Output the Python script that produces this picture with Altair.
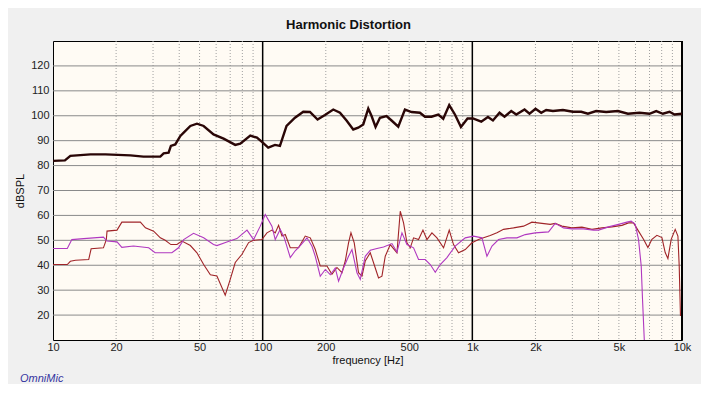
import altair as alt
import pandas as pd

# ---------------- data ----------------
fund_freq = [10, 11.4, 12.1, 15.1, 17.8, 23.4, 27.0, 32.5, 33.7, 35.6, 36.5, 38.3, 40.5, 42.0, 45.2,
             48.6, 52.3, 58.3, 65.1, 74.0, 78.2, 87.3, 93.9, 99.2, 106.3, 114.5, 120.9, 130.0, 142.6,
             156.2, 168.1, 182.7, 198.2, 217.1, 233.7, 251.2, 270.4, 285.7, 301.8, 318.9, 330.7, 345.5,
             362.6, 389.7, 411.8, 443.3, 477.0, 513.0, 562.5, 594.3, 638.9, 687.8, 726.5, 775.9, 826.0,
             882.3, 948.7, 1007, 1103, 1187, 1254, 1348, 1424, 1533, 1620, 1774, 1874, 2002, 2131, 2251,
             2423, 2704, 3018, 3306, 3558, 3897, 4350, 4948, 5521, 6270, 6998, 7533, 8108, 8718, 9210, 10000]
fund_db = [81.9, 82.1, 83.9, 84.5, 84.5, 84.1, 83.6, 83.6, 84.9, 85.2, 87.9, 88.5, 91.9, 93.2, 95.9,
           96.8, 95.9, 92.5, 90.8, 88.3, 88.8, 92.0, 91.2, 89.5, 87.2, 88.3, 87.9, 95.9, 99.2,
           101.6, 101.5, 98.5, 100.3, 102.5, 101.2, 98.1, 94.5, 95.2, 96.5, 102.9, 99.9, 95.5,
           99.2, 99.9, 98.1, 95.6, 102.5, 101.5, 101.2, 99.6, 99.6, 100.5, 98.8, 104.3, 100.5,
           95.5, 98.9, 98.9, 97.6, 99.5, 98.1, 101.2, 99.6, 101.9, 100.5, 102.5, 100.8, 102.8, 101.2, 102.3,
           101.9, 102.3, 101.6, 101.6, 100.8, 101.9, 101.5, 101.9, 100.8, 101.2, 100.8, 101.9, 100.8, 101.6, 100.5, 100.8]

h2_freq = [10, 11.7, 12.1, 12.8, 14.8, 15.2, 17.4, 17.96, 18.1, 20.2, 21.3, 26.1, 27.6, 30.2, 32.5, 34.3,
           36.5, 39.0, 41.2, 45.2, 48.6, 52.3, 56.3, 60.5, 66.3, 70.1, 74.0, 79.7, 85.7, 90.5, 99.2,
           104.8, 110.7, 114.8, 119.1, 123.6, 128.2, 135.4, 148.3, 159.6, 168.7, 178.2, 188.2, 202.6,
           214.0, 226.1, 238.9, 247.7, 256.8, 263.7, 273.4, 286.6, 297.5, 308.5, 326.0, 344.4, 357.0,
           370.6, 384.3, 406.0, 437.0, 453.2, 469.9, 487.7, 505.7, 524.4, 554.0, 581.4, 607.5, 641.7,
           678.0, 729.0, 775.9, 813.4, 859.5, 925.0, 995.6, 1071, 1131, 1217, 1310, 1409, 1572, 1755,
           1924, 2148, 2353, 2485, 2675, 2985, 3331, 3718, 4150, 4632, 5169, 5559, 5872, 6203, 6553,
           6877, 7187, 7592, 8020, 8315, 8566, 8881, 9281, 9561, 9698, 9835]
h2_db = [40.3, 40.3, 41.6, 42.0, 42.3, 46.6, 47.0, 50.3, 53.7, 54.1, 57.3, 57.3, 55.0, 53.7, 51.0, 50.0,
         48.3, 48.3, 49.7, 47.9, 45.0, 40.3, 36.2, 35.7, 28.0, 34.4, 41.1, 44.4, 49.1, 50.0, 50.3,
         53.0, 54.1, 53.0, 56.0, 51.7, 52.3, 47.0, 47.0, 51.7, 51.0, 46.3, 39.7, 39.7,
         36.4, 39.1, 37.0, 41.7, 49.0, 53.0, 49.0, 37.0, 35.6, 41.7, 45.0, 38.9, 34.9,
         35.6, 43.6, 48.3, 45.0, 61.7, 57.0, 49.0, 47.0, 51.0, 50.3, 54.1, 50.3, 53.0,
         51.0, 47.0, 54.1, 48.3, 45.0, 46.3, 49.0, 50.3, 51.0, 51.9, 53.0, 54.4, 55.0, 55.7,
         57.3, 56.8, 56.4, 56.8, 55.7, 55.0, 55.3, 54.4, 55.0, 55.4, 56.0, 57.0, 57.0, 53.7, 50.4,
         47.1, 50.4, 52.0, 51.1, 45.1, 42.7, 50.4, 54.4, 51.7, 39.7, 19.6]

h3_freq = [10, 11.7, 12.3, 14.0, 17.4, 18.1, 20.2, 21.3, 24.2, 28.6, 30.7, 36.9, 39.7, 42.0, 46.8, 52.3,
           58.3, 60.5, 67.5, 75.4, 84.2, 90.5, 97.4, 102.9, 110.7, 114.8, 121.3, 126.8, 135.4, 143.0,
           151.1, 162.7, 171.9, 178.2, 188.2, 198.9, 210.1, 221.9, 230.1, 243.1, 256.8, 266.6, 281.7,
           292.1, 308.5, 326.0, 350.8, 377.2, 413.6, 437.0, 461.7, 487.7, 524.4, 554.0, 596.3, 630.0,
           665.5, 703.1, 756.6, 828.8, 925.0, 1013, 1111, 1174, 1241, 1334, 1462, 1632, 1788, 1995,
           2309, 2485, 2722, 2985, 3391, 3784, 3998, 4461, 4980, 5461, 5723, 5981, 6203, 6390, 6482, 6625]
h3_db = [46.7, 46.7, 50.3, 50.7, 51.3, 49.7, 49.4, 47.2, 47.7, 47.0, 45.0, 45.0, 47.0, 50.3, 52.8, 51.0,
         48.3, 47.9, 49.3, 50.7, 54.1, 50.3, 55.7, 60.4, 55.7, 50.3, 54.4, 51.0, 43.1, 45.8,
         47.9, 51.0, 47.6, 43.6, 35.6, 38.3, 36.2, 38.9, 33.6, 38.9, 43.6, 46.3, 37.0,
         34.3, 43.6, 46.0, 46.7, 47.3, 48.7, 45.3, 53.0, 48.3, 47.0, 42.3, 42.3, 40.3,
         37.2, 40.3, 43.1, 47.7, 51.0, 51.7, 51.0, 43.6, 47.7, 50.3, 51.0, 51.0, 52.3, 53.0,
         53.4, 56.8, 55.0, 54.6, 54.6, 54.1, 54.1, 55.4, 56.4, 57.3, 57.7, 56.4, 50.4, 39.7, 26.3, 8.0]

x_tick_values = [10, 20, 50, 100, 200, 500, 1000, 2000, 5000, 10000]
y_tick_values = [20, 30, 40, 50, 60, 70, 80, 90, 100, 110, 120]
minor_freqs = [20, 30, 40, 50, 60, 70, 80, 90, 200, 300, 400, 500, 600, 700, 800, 900,
               2000, 3000, 4000, 5000, 6000, 7000, 8000, 9000]
major_freqs = [100, 1000]
edge_freqs = [10000]

# ---------------- chart ----------------
FONT = "Liberation Sans"
x_scale = alt.Scale(type="log", domain=[10, 10000], nice=False)
y_scale = alt.Scale(domain=[10, 130], nice=False, zero=False)

x_axis = alt.Axis(
    values=x_tick_values,
    labelExpr="datum.value >= 1000 ? (datum.value / 1000) + 'k' : '' + datum.value",
    grid=False, ticks=False, domain=False,
    labelFont=FONT, labelFontSize=11, labelColor="#222222", labelPadding=1,
    labelFlush=False, labelOverlap=False,
    title="frequency [Hz]", titleFont=FONT, titleFontSize=11,
    titleFontWeight="normal", titleColor="#111111", titlePadding=2,
)
y_axis = alt.Axis(
    values=y_tick_values, grid=False, ticks=False, domain=False,
    labelFont=FONT, labelFontSize=11, labelColor="#222222", labelPadding=4,
    title="dBSPL", titleFont=FONT, titleFontSize=11, titleFontWeight="normal",
    titleColor="#111111", titlePadding=5,
)

minor = alt.Chart(pd.DataFrame({"f": minor_freqs})).mark_rule(
    color="#a0a0a0", strokeWidth=1, strokeDash=[1, 2]
).encode(x=alt.X("f:Q", scale=x_scale, axis=x_axis))

hgrid = alt.Chart(pd.DataFrame({"db": y_tick_values})).mark_rule(
    color="#8a8a8a", strokeWidth=1
).encode(y=alt.Y("db:Q", scale=y_scale, axis=y_axis))

major = alt.Chart(pd.DataFrame({"f": major_freqs})).mark_rule(
    color="#000000", strokeWidth=1.5
).encode(x=alt.X("f:Q", scale=x_scale, axis=x_axis))

edge = alt.Chart(pd.DataFrame({"f": edge_freqs})).mark_rule(
    color="#000000", strokeWidth=2
).encode(x=alt.X("f:Q", scale=x_scale, axis=x_axis))


def curve(freqs, dbs, color, width):
    df = pd.DataFrame({"f": freqs, "db": dbs})
    return alt.Chart(df).mark_line(color=color, strokeWidth=width, clip=True).encode(
        x=alt.X("f:Q", scale=x_scale, axis=x_axis),
        y=alt.Y("db:Q", scale=y_scale, axis=y_axis),
    )


h2 = curve(h2_freq, h2_db, "#a02428", 1.1)
h3 = curve(h3_freq, h3_db, "#b038c0", 1.1)
fund = curve(fund_freq, fund_db, "#2a0606", 2.4)

brand = alt.Chart(pd.DataFrame({"t": ["OmniMic"]})).mark_text(
    align="left", baseline="alphabetic", fontStyle="italic", fontSize=11,
    font=FONT, color="#3535a0"
).encode(x=alt.value(-33), y=alt.value(341), text="t:N")

chart = alt.layer(minor, hgrid, major, edge, h2, h3, fund, brand).properties(
    width=629,
    height=299,
    padding={"left": 45, "top": 33, "right": 19, "bottom": 44},
    autosize="none",
    background="#f0f0f0",
    title=alt.TitleParams(
        "Harmonic Distortion", font=FONT, fontSize=13, fontWeight="bold",
        color="#111111", anchor="middle", dx=-19, offset=8,
    ),
).configure_view(stroke="#000000", strokeWidth=1, fill="#fffbf4")

chart.save("out.html", embed_options={"renderer": "svg", "actions": False})
